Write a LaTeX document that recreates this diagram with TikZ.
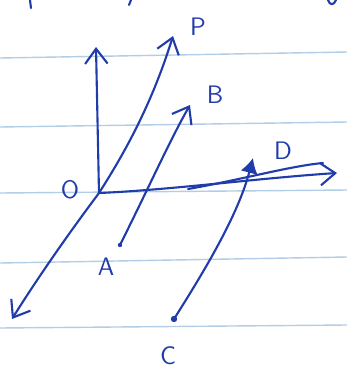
\documentclass[tikz,border=0pt]{standalone}
\usepackage{tikz}
\usetikzlibrary{arrows.meta}
\definecolor{ink}{RGB}{32,60,170}
\definecolor{ruling}{RGB}{178,206,230}

\begin{document}
\begin{tikzpicture}[x=0.02cm,y=-0.02cm,
    pen/.style={draw=ink,line width=1.2pt,line cap=round,line join=round},
    vec/.style={pen,-{Straight Barb[length=3mm,width=4.5mm]}},
    lbl/.style={text=ink,font=\sffamily\Large,inner sep=0pt}]
    \useasboundingbox (0,0) rectangle (347,370);
    % ruled paper
    \foreach \a/\b in {58/52,127/122,193/190,263/257,328/325}
        \draw[ruling,line width=0.8pt] (0,\a) -- (347,\b);
    % bits of writing cut off at the top
    \draw[pen] (30,0) -- (31,8);
    \draw[pen] (131,0) -- (129,5);
    \draw[pen] (328,0) .. controls (330,6) and (334,5) .. (336,0);

    % points
    \coordinate (O) at (99,193);
    \coordinate (ytip) at (96,47);
    \coordinate (xtip) at (337,173);
    \coordinate (ztip) at (12,319);
    \coordinate (Ptip) at (173,36);
    \coordinate (Btip) at (190,105);
    \coordinate (Dtip) at (253,158);
    \coordinate (x2a) at (188,189);
    \coordinate (x2b) at (323,163);
    \fill[ink] (120,245) circle (2.2) coordinate (A);
    \fill[ink] (174,319) circle (3.2) coordinate (C);

    % labels
    \node[lbl] (lO) at (70,190) {O};
    \node[lbl] (lP) at (198,27) {P};
    \node[lbl] (lB) at (215,95) {B};
    \node[lbl] (lD) at (283,151) {D};
    \node[lbl] (lA) at (106,267) {A};
    \node[lbl] (lC) at (168,356) {C};

    % axes
    \draw[vec] (O) -- (ytip);
    \draw[vec] (O) .. controls (170,190) and (260,178) .. (xtip);
    \draw[pen] (x2a) .. controls (240,180) and (290,166) .. (x2b);
    \draw[vec] (O) .. controls (60,245) and (30,290) .. (ztip);

    % vectors
    \draw[vec] (O) .. controls (120,160) and (150,110) .. (Ptip);
    \draw[vec] (A) .. controls (150,185) and (170,140) .. (Btip);
    \draw[pen,-{Latex[length=3mm,width=3.5mm]}] (C) .. controls (205,270) and (238,215) .. (Dtip);
\end{tikzpicture}
\end{document}
